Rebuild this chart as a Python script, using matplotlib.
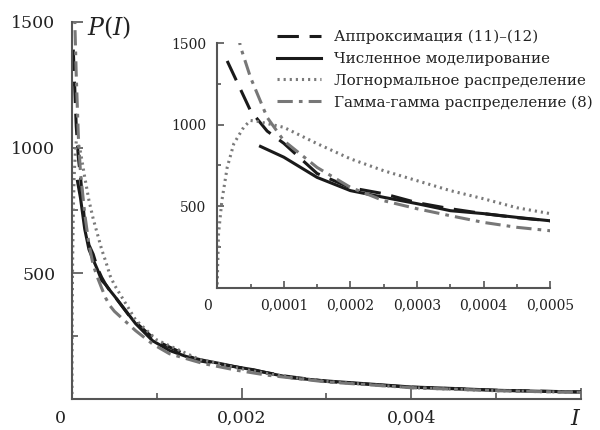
"""
P(I): approximation vs simulation vs lognormal vs gamma-gamma, with inset zoom.
"""
import numpy as np
import matplotlib as mpl, matplotlib.pyplot as plt
from matplotlib.ticker import MultipleLocator

mpl.rcParams.update({"font.family": "DejaVu Serif", "mathtext.fontset": "dejavuserif",
    "axes.spines.right": False, "axes.spines.top": False, "axes.edgecolor": "#555555",
    "axes.linewidth": 1.5, "legend.frameon": False})

# ====== Data ======
I_appr = [0.000015, 0.00005, 0.000075, 0.0001, 0.00015, 0.0002, 0.00025, 0.0003, 0.00035,
          0.0004, 0.00045, 0.0005, 0.0007, 0.001, 0.0015, 0.002, 0.0025, 0.003, 0.004, 0.005, 0.006]
P_appr = [1390, 1085, 960, 885, 700, 613, 576, 521, 484,
          454, 429, 410, 320, 230, 152, 124, 92, 70, 47, 35, 28]

I_num = [0.000065, 0.0001, 0.00015, 0.0002, 0.00025, 0.0003, 0.00035, 0.0004, 0.00045, 0.0005,
         0.00075, 0.00095, 0.00115, 0.00135, 0.00155, 0.00175, 0.00195, 0.00215, 0.0023, 0.0026,
         0.003, 0.0035, 0.004, 0.0045, 0.005, 0.0055, 0.006]
P_num = [866, 800, 676, 595, 554, 515, 472, 454, 431, 410,
         300, 232, 193, 169, 154, 141, 127, 116, 104, 84,
         72, 60, 48, 42, 35, 31, 28]

I_logn = [0, 0.000002, 0.000007, 0.000015, 0.000025, 0.00004, 0.00005, 0.00006, 0.0001, 0.00015,
          0.0002, 0.00025, 0.0003, 0.00035, 0.0004, 0.00045, 0.0005, 0.00075, 0.001, 0.0015,
          0.002, 0.0025, 0.003, 0.004, 0.005, 0.006]
P_logn = [20, 330, 533, 737, 883, 985, 1025, 1020, 983, 883,
          790, 717, 656, 595, 545, 490, 454, 315, 235, 158,
          120, 90, 70, 45, 33, 26]

I_gg = [0.00002, 0.0000345, 0.00005, 0.000075, 0.0001, 0.00015, 0.0002, 0.00025, 0.0003, 0.00035,
        0.0004, 0.00045, 0.0005, 0.00075, 0.00095, 0.00115, 0.00155, 0.00195, 0.0023, 0.003,
        0.004, 0.005, 0.006]
P_gg = [1900, 1483, 1289, 1044, 901, 737, 615, 533, 484, 441,
        400, 370, 349, 272, 219, 180, 141, 114, 95, 68,
        45, 33, 26]

labels = ["Аппроксимация (11)–(12)", "Численное моделирование",
          "Логнормальное распределение", "Гамма-гамма распределение (8)"]

LW = 2.2
styles = [dict(color="#1a1a1a", lw=LW, dashes=(7, 3.5)),
          dict(color="#1a1a1a", lw=LW, ls="-"),
          dict(color="#7a7a7a", lw=LW, dashes=(0.7, 1.3)),
          dict(color="#777777", lw=LW, dashes=(5, 2, 1.2, 2))]
series = [(I_appr, P_appr), (I_num, P_num), (I_logn, P_logn), (I_gg, P_gg)]

fig = plt.figure(figsize=(6, 4.3), dpi=100)

# --- main axes ---
ax = fig.add_axes([0.12, 0.072, 0.848, 0.877])
for (x, y), st in zip(series, styles):
    ax.plot(x, y, **st)
ax.set_xlim(0, 0.006)
ax.set_ylim(0, 1500)
ax.xaxis.set_minor_locator(MultipleLocator(0.001))
ax.yaxis.set_minor_locator(MultipleLocator(250))
ax.set_xticks([0.002, 0.004, 0.006])
ax.set_xticklabels(["0,002", "0,004", ""])
ax.set_yticks([500, 1000, 1500])
ax.set_yticklabels(["500", "1000", "1500"])
ax.tick_params(which="both", direction="in", color="#555555", width=1.2, labelsize=12.5,
               labelcolor="#222222")
ax.tick_params(which="major", length=8)
ax.tick_params(which="minor", length=4)
ax.tick_params(axis="y", pad=12)
ax.tick_params(axis="x", pad=8)
ax.text(-0.012, -0.028, "0", transform=ax.transAxes, ha="right", va="top", fontsize=12.5, color="#222222")
ax.text(0.99, -0.025, "$I$", transform=ax.transAxes, ha="center", va="top", fontsize=16, color="#222222")
ax.text(0.03, 0.985, "$P(I)$", transform=ax.transAxes, ha="left", va="center", fontsize=17, color="#222222")

# --- inset ---
axi = fig.add_axes([0.362, 0.331, 0.555, 0.569])
lines = []
for (x, y), st in zip(series, styles):
    lines += axi.plot(x, y, **st)
axi.set_xlim(0, 0.0005)
axi.set_ylim(0, 1500)
axi.xaxis.set_minor_locator(MultipleLocator(0.00005))
axi.yaxis.set_minor_locator(MultipleLocator(250))
axi.set_xticks([0.0001, 0.0002, 0.0003, 0.0004, 0.0005])
axi.set_xticklabels(["0,0001", "0,0002", "0,0003", "0,0004", "0,0005"])
axi.set_yticks([500, 1000, 1500])
axi.tick_params(which="both", direction="in", color="#555555", width=1.2, labelsize=10,
                labelcolor="#222222")
axi.tick_params(which="major", length=5)
axi.tick_params(which="minor", length=3)
axi.tick_params(axis="y", pad=8)
axi.tick_params(axis="x", pad=8)
axi.patch.set_alpha(0)
axi.text(-0.015, -0.045, "0", transform=axi.transAxes, ha="right", va="top", fontsize=10, color="#222222")

fig.legend(lines, labels, loc="upper left", bbox_to_anchor=(0.462, 0.93), fontsize=10.9,
           handlelength=2.9, handletextpad=0.85, labelspacing=0.5, borderpad=0, borderaxespad=0,
           labelcolor="#222222")

fig.savefig("out.png", dpi=100)
